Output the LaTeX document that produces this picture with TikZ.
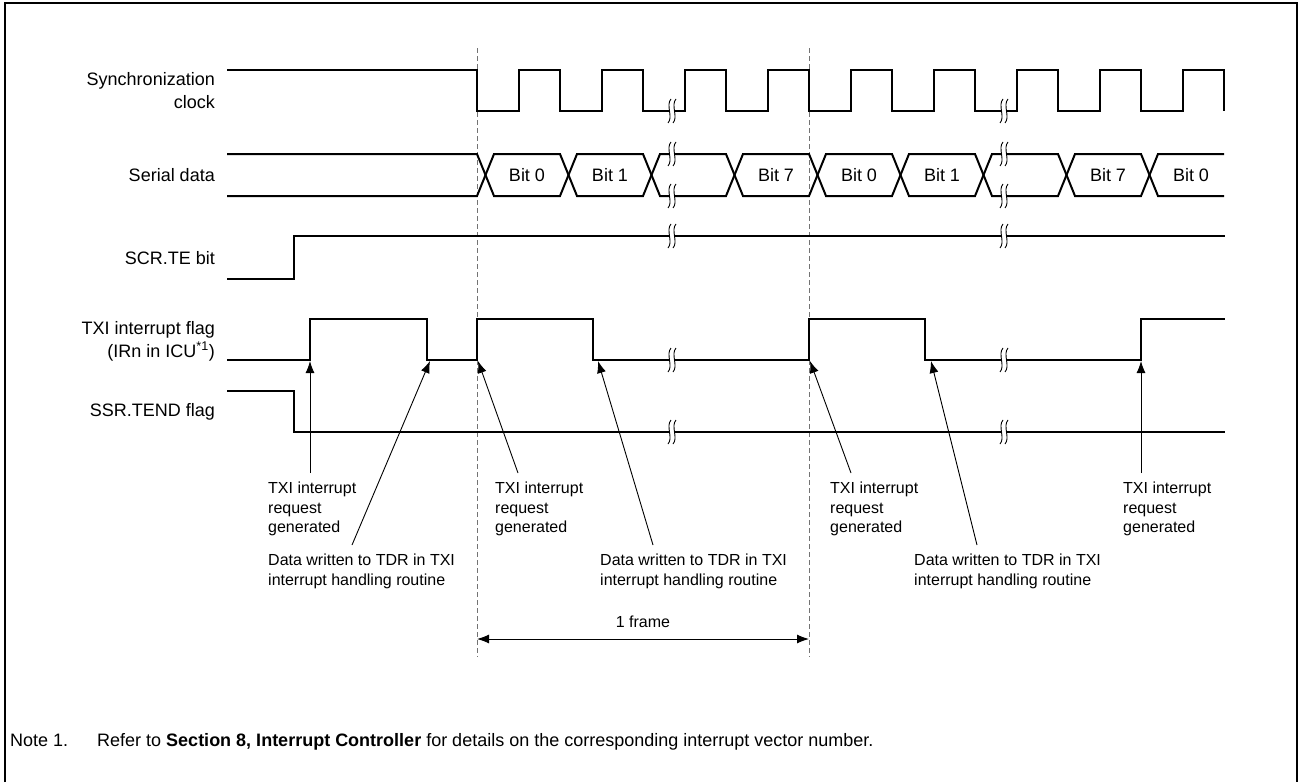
\documentclass[tikz,border=0pt]{standalone}
\usepackage{fontspec}
\setmainfont{Liberation Sans}
\usetikzlibrary{arrows.meta}
\newcommand\brkmark[2]{%
  \fill[white] (#1-1,#2-12) .. controls (#1-6.5,#2-6) and (#1+1.5,#2+6) .. (#1-4,#2+12)
     -- (#1+1,#2+12) .. controls (#1+6.5,#2+6) and (#1-1.5,#2-6) .. (#1+4,#2-12) -- cycle;
  \draw[brkc] (#1-1,#2-12) .. controls (#1-6.5,#2-6) and (#1+1.5,#2+6) .. (#1-4,#2+12);
  \draw[brkc] (#1+4,#2-12) .. controls (#1-1.5,#2-6) and (#1+6.5,#2+6) .. (#1+1,#2+12);
}
\begin{document}
\begin{tikzpicture}[x=1pt,y=-1pt,
  sig/.style={line width=2pt, line join=miter},
  arr/.style={line width=0.9pt, -{Latex[length=12pt,width=9pt]}},
  dblarr/.style={line width=1pt, {Latex[length=12pt,width=9pt]}-{Latex[length=12pt,width=9pt]}},
  dashline/.style={draw=black!55, line width=1pt, dash pattern=on 5pt off 3pt},
  siglab/.style={font=\fontsize{18}{23}\selectfont, anchor=east, align=right, inner sep=0pt},
  smlab/.style={font=\fontsize{16}{19.5}\selectfont, anchor=north west, align=left, inner sep=0pt},
  bitlab/.style={font=\fontsize{18}{20}\selectfont, inner sep=0pt},
  notelab/.style={font=\fontsize{18}{20}\selectfont, anchor=base west, inner sep=0pt},
  brkc/.style={line width=0.9pt}
]
\useasboundingbox (0,0) rectangle (1301,782);
% frame
\draw[line width=2pt] (5,782) -- (5,3) -- (1297,3) -- (1297,782);

% dashed frame boundaries
\coordinate (d1t) at (477,48); \coordinate (d1b) at (477,657);
\coordinate (d2t) at (809,48); \coordinate (d2b) at (809,657);
\draw[dashline] (d1t) -- (d1b);
\draw[dashline] (d2t) -- (d2b);

% signal labels
\node[siglab] (lsync) at (215,91) {Synchronization\\clock};
\node[siglab] (lser) at (215,175) {Serial data};
\node[siglab] (lte) at (215,258) {SCR.TE bit};
\node[siglab] (ltxi) at (215,341) {TXI interrupt flag\\(IRn in ICU\textsuperscript{*1})};
\node[siglab] (ltend) at (215,412) {SSR.TEND flag};

% synchronization clock
\draw[sig] (227,70) -- (477,70) -- (477,111) -- (518.5,111) -- (518.5,70) -- (560,70) -- (560,111)
  -- (601.5,111) -- (601.5,70) -- (643,70) -- (643,111) -- (684.5,111) -- (684.5,70) -- (726,70)
  -- (726,111) -- (767.5,111) -- (767.5,70) -- (809,70) -- (809,111) -- (850.5,111) -- (850.5,70)
  -- (892,70) -- (892,111) -- (933.5,111) -- (933.5,70) -- (975,70) -- (975,111) -- (1016.5,111)
  -- (1016.5,70) -- (1058,70) -- (1058,111) -- (1099.5,111) -- (1099.5,70) -- (1141,70) -- (1141,111)
  -- (1182.5,111) -- (1182.5,70) -- (1224,70) -- (1224,111);

% serial data
\draw[sig] (227,154) -- (477,154) -- (494,196) -- (560,196) -- (577,154) -- (643,154) -- (660,196)
  -- (726,196) -- (743,154) -- (809,154) -- (826,196) -- (892,196) -- (909,154) -- (975,154)
  -- (992,196) -- (1058,196) -- (1075,154) -- (1141,154) -- (1158,196) -- (1224,196);
\draw[sig] (227,196) -- (477,196) -- (494,154) -- (560,154) -- (577,196) -- (643,196) -- (660,154)
  -- (726,154) -- (743,196) -- (809,196) -- (826,154) -- (892,154) -- (909,196) -- (975,196)
  -- (992,154) -- (1058,154) -- (1075,196) -- (1141,196) -- (1158,154) -- (1224,154);
\node[bitlab] (b1) at (527,175) {Bit 0};
\node[bitlab] (b2) at (610,175) {Bit 1};
\node[bitlab] (b3) at (776,175) {Bit 7};
\node[bitlab] (b4) at (859,175) {Bit 0};
\node[bitlab] (b5) at (942,175) {Bit 1};
\node[bitlab] (b6) at (1108,175) {Bit 7};
\node[bitlab] (b7) at (1191,175) {Bit 0};

% SCR.TE
\draw[sig] (227,279) -- (294,279) -- (294,236) -- (1225,236);
% TXI flag
\draw[sig] (227,360) -- (310,360) -- (310,319) -- (427,319) -- (427,360) -- (477,360) -- (477,319)
  -- (593,319) -- (593,360) -- (809,360) -- (809,319) -- (925,319) -- (925,360) -- (1141,360)
  -- (1141,319) -- (1225,319);
% SSR.TEND
\draw[sig] (227,391) -- (294,391) -- (294,432) -- (1225,432);

% break marks
\foreach \bx in {672,1004}{
  \foreach \by in {111,154,196,236,360,432}{
    \brkmark{\bx}{\by}
  }
}

% annotation labels
\node[smlab] (l1) at (268,482) {TXI interrupt\\request\\generated};
\node[smlab] (l2) at (268,554) {Data written to TDR in TXI\\interrupt handling routine};
\node[smlab] (l3) at (495,482) {TXI interrupt\\request\\generated};
\node[smlab] (l4) at (600,554) {Data written to TDR in TXI\\interrupt handling routine};
\node[smlab] (l5) at (830,482) {TXI interrupt\\request\\generated};
\node[smlab] (l6) at (914,554) {Data written to TDR in TXI\\interrupt handling routine};
\node[smlab] (l7) at (1123,482) {TXI interrupt\\request\\generated};

% arrow ends
\coordinate (s1) at (310,473); \coordinate (t1) at (310,361);
\coordinate (s2) at (352,545); \coordinate (t2) at (430,361);
\coordinate (s3) at (518,473); \coordinate (t3) at (478,361);
\coordinate (s4) at (653,545); \coordinate (t4) at (598,361);
\coordinate (s5) at (851,473); \coordinate (t5) at (810,361);
\coordinate (s6) at (977,545); \coordinate (t6) at (931,361);
\coordinate (s7) at (1141,473); \coordinate (t7) at (1141,361);
\foreach \i in {1,...,7}{ \draw[arr] (s\i) -- (t\i); }

% frame length
\coordinate (fa) at (477,639); \coordinate (fb) at (809,639);
\draw[dblarr] (fa) -- (fb);
\node[font=\fontsize{16}{19}\selectfont, inner sep=0pt] (frm) at (643,622) {1 frame};

% note
\node[notelab] (n1) at (10,746) {Note 1.};
\node[notelab] (n2) at (97,746) {Refer to \textbf{Section 8, Interrupt Controller} for details on the corresponding interrupt vector number.};
\end{tikzpicture}
\end{document}
